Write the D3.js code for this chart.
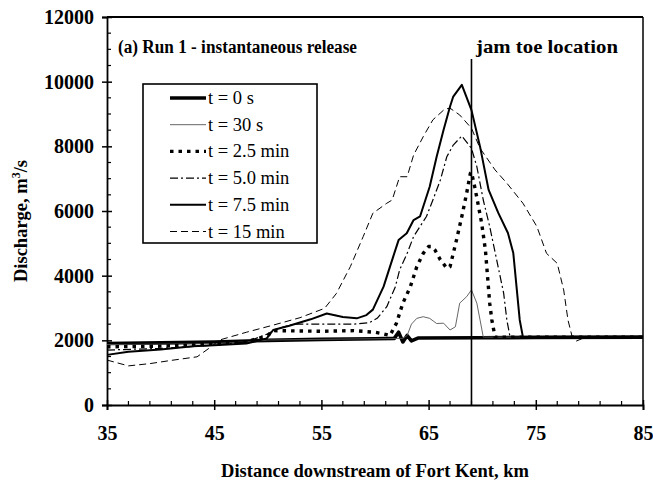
<!DOCTYPE html>
<html><head><meta charset="utf-8">
<script src="https://cdn.jsdelivr.net/npm/d3@7"></script>
<style>body{margin:0;background:#fff}svg{display:block}</style>
</head><body>
<svg id="c" width="653" height="483"></svg>
<script>
// ---- data ----
const xTickValues = [35, 45, 55, 65, 75, 85];
const yTickValues = [0, 2000, 4000, 6000, 8000, 10000, 12000];
const seriesLabels = ["t = 0 s", "t = 30 s", "t = 2.5 min", "t = 5.0 min", "t = 7.5 min", "t = 15 min"];
const jamToeKm = 69.0;

const t0s = [[35,1900],[40,1920],[45,1950],[50,2000],[55,2030],[60,2050],[61.8,2060],[62.2,2250],[62.6,1950],[63.0,2150],[63.4,1980],[64,2070],[70,2080],[75,2090],[85,2100]];
const t30s = [[35,1870],[40,1880],[45,1900],[48,1950],[50,2010],[55,2030],[60,2050],[62.6,2060],[63.0,2150],[63.4,2500],[63.9,2680],[64.5,2730],[65.1,2680],[65.75,2520],[66.4,2530],[67.0,2320],[67.5,2420],[67.9,3150],[68.55,3350],[69.0,3560],[69.5,3150],[69.8,2630],[70.1,2100],[75,2100],[85,2100]];
const t25m = [[35,1800],[40,1820],[45,1880],[48,1950],[50,2150],[50.5,2300],[55,2280],[58,2300],[60,2250],[60.8,2200],[61.4,2150],[62.0,2530],[62.6,3150],[63.3,3660],[63.9,4280],[64.5,4690],[65.0,4900],[65.3,4900],[65.6,4790],[66.1,4490],[66.7,4230],[67.0,4280],[67.3,4690],[67.6,5100],[68.1,5830],[68.55,6550],[68.9,7170],[69.0,7200],[69.3,6750],[69.6,6240],[69.95,5620],[70.3,4790],[70.5,3970],[70.7,3150],[70.9,2630],[71.2,2100],[75,2100],[85,2100]];
const t50m = [[35,1700],[40,1750],[45,1850],[48,1950],[50,2200],[50.8,2350],[52.4,2500],[55,2500],[58,2500],[59.5,2550],[60.2,2680],[61.1,3040],[61.9,3660],[62.3,4180],[63.0,4690],[63.6,5210],[64.2,5520],[64.8,5830],[65.4,6340],[66.1,6960],[66.7,7680],[67.3,8040],[68.1,8320],[69.0,7940],[69.5,7370],[70.1,6340],[70.7,5520],[71.35,4490],[72.0,3460],[72.3,2630],[72.6,2100],[75,2100],[85,2100]];
const t75m = [[35,1550],[37,1650],[40,1720],[43,1820],[45,1850],[48,1900],[49.9,2060],[50.5,2320],[52,2450],[54,2650],[55.5,2830],[57,2720],[58.3,2680],[59.2,2780],[59.8,2950],[60.8,3660],[61.7,4590],[62.2,5100],[62.96,5310],[63.6,5720],[64.2,5830],[65.1,6750],[65.75,7680],[66.4,8510],[67.0,9230],[67.3,9540],[68.1,9900],[69.0,9120],[69.8,7990],[70.6,6650],[71.5,5940],[72.4,5320],[72.9,4700],[73.5,2630],[73.8,2100],[75,2100],[85,2100]];
const t15m = [[35,1390],[36,1300],[37,1210],[39,1280],[41,1380],[43.4,1490],[44.5,1750],[45.5,2010],[48,2250],[50.5,2470],[53,2700],[55.3,2990],[56.4,3450],[57.7,4280],[58.9,5210],[59.8,5930],[61.1,6240],[61.6,6340],[62.3,7060],[63.0,7060],[63.6,7730],[64.5,8300],[65.4,8820],[66.5,9150],[67.0,9180],[67.9,8970],[69.0,8560],[69.8,7940],[71.2,7270],[72.3,6860],[73.8,6240],[75.1,5520],[76.0,4690],[77.0,4380],[77.6,3560],[78.0,2630],[78.4,2100],[78.8,1980],[79.3,2050],[80,2100],[85,2100]];

const seriesData = [t0s, t30s, t25m, t50m, t75m, t15m];
const styles = [
  {w:3.6, dash:null, color:"#000"},
  {w:0.9, dash:null, color:"#555"},
  {w:3.4, dash:"3.5,5", color:"#000"},
  {w:1.2, dash:"8,3,2,3", color:"#000"},
  {w:2.0, dash:null, color:"#000"},
  {w:1.0, dash:"7,4", color:"#000"}
];

// ---- layout ----
const L = 107, R = 643, T = 17, B = 405;
const svg = d3.select("#c");
const x = d3.scaleLinear().domain([35, 85]).range([L, R]);
const y = d3.scaleLinear().domain([0, 12000]).range([B, T]);
const font = "'Liberation Serif','Times New Roman',serif";

// frame (top & right)
svg.append("line").attr("x1", L).attr("x2", R).attr("y1", T).attr("y2", T).attr("stroke", "#000").attr("stroke-width", 1.8);
svg.append("line").attr("x1", R).attr("x2", R).attr("y1", T).attr("y2", B).attr("stroke", "#000").attr("stroke-width", 1.5);

// axes
const xAxis = d3.axisBottom(x).tickValues(xTickValues).tickSize(5).tickPadding(16).tickFormat(d3.format("d"));
const gx = svg.append("g").attr("transform", `translate(0,${B})`).call(xAxis);
const yAxis = d3.axisLeft(y).tickValues(yTickValues).tickSize(5).tickPadding(8).tickFormat(d3.format("d"));
const gy = svg.append("g").attr("transform", `translate(${L},0)`).call(yAxis);
[gx, gy].forEach(g => {
  g.select(".domain").attr("stroke", "#000").attr("stroke-width", 1.8);
  g.selectAll(".tick line").attr("stroke", "#000").attr("stroke-width", 1.5);
  g.selectAll(".tick text").attr("font-family", font).attr("font-weight", "bold").attr("font-size", 20).attr("fill", "#000");
});
gx.selectAll(".tick").append("line").attr("y2", -5).attr("stroke", "#000").attr("stroke-width", 1.5);
gy.selectAll(".tick").append("line").attr("x2", 5).attr("stroke", "#000").attr("stroke-width", 1.5);
// minor ticks
const xMinor = d3.range(35, 85.01, 2).filter(v => !xTickValues.includes(v));
svg.append("g").selectAll("line").data(xMinor).join("line")
  .attr("x1", d => x(d)).attr("x2", d => x(d)).attr("y1", B).attr("y2", B - 4)
  .attr("stroke", "#000").attr("stroke-width", 1.2);
const yMinor = d3.range(0, 12001, 500).filter(v => v % 2000 !== 0);
svg.append("g").selectAll("line").data(yMinor).join("line")
  .attr("x1", L).attr("x2", L + 4).attr("y1", d => y(d)).attr("y2", d => y(d))
  .attr("stroke", "#000").attr("stroke-width", 1.2);

// axis titles
svg.append("text").attr("x", (L + R) / 2).attr("y", 477).attr("text-anchor", "middle")
  .attr("font-family", font).attr("font-weight", "bold").attr("font-size", 18.5)
  .text("Distance downstream of Fort Kent, km");
const yl = svg.append("text").attr("transform", `translate(27,${(T + B) / 2 + 10}) rotate(-90)`).attr("text-anchor", "middle")
  .attr("font-family", font).attr("font-weight", "bold").attr("font-size", 18.5);
yl.append("tspan").text("Discharge, m");
yl.append("tspan").attr("dy", -7).attr("font-size", 12).text("3");
yl.append("tspan").attr("dy", 7).text("/s");

// curves
const line = d3.line().x(d => x(d[0])).y(d => y(d[1]));
const order = [0, 1, 2, 3, 5, 4];
svg.append("g").selectAll("path").data(order).join("path")
  .attr("d", i => line(seriesData[i])).attr("fill", "none")
  .attr("stroke", i => styles[i].color).attr("stroke-width", i => styles[i].w)
  .attr("stroke-dasharray", i => styles[i].dash).attr("stroke-linejoin", "round");

// jam toe line
svg.append("line").attr("x1", x(jamToeKm)).attr("x2", x(jamToeKm)).attr("y1", y(10700)).attr("y2", B)
  .attr("stroke", "#000").attr("stroke-width", 1.6);

// labels
svg.append("text").attr("x", 118).attr("y", 53).attr("font-family", font).attr("font-weight", "bold").attr("font-size", 18)
  .attr("textLength", 239).attr("lengthAdjust", "spacingAndGlyphs")
  .text("(a) Run 1 - instantaneous release");
svg.append("text").attr("x", 476).attr("y", 53).attr("font-family", font).attr("font-weight", "bold").attr("font-size", 19)
  .attr("textLength", 142).attr("lengthAdjust", "spacingAndGlyphs")
  .text("jam toe location");

// legend
const lg = svg.append("g");
lg.append("rect").attr("x", 143).attr("y", 84).attr("width", 174).attr("height", 159)
  .attr("fill", "#fff").attr("stroke", "#000").attr("stroke-width", 1.6);
const ly0 = 98, ldy = 26.7;
seriesLabels.forEach((lab, i) => {
  const yy = ly0 + i * ldy;
  lg.append("line").attr("x1", 170).attr("x2", 206).attr("y1", yy).attr("y2", yy)
    .attr("stroke", styles[i].color).attr("stroke-width", styles[i].w).attr("stroke-dasharray", styles[i].dash);
  lg.append("text").attr("x", 208).attr("y", yy + 6).attr("font-family", font).attr("font-size", 18.5).text(lab);
});
</script>
</body></html>
